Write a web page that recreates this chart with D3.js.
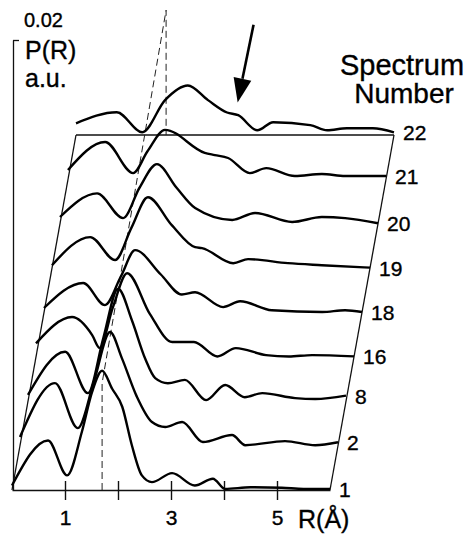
<!DOCTYPE html>
<html>
<head>
<meta charset="utf-8">
<script src="https://cdn.jsdelivr.net/npm/d3@7"></script>
<style>
  body { margin: 0; background: #fff; }
  svg { display: block; font-family: "Liberation Sans", Arial, Helvetica, sans-serif; }
  svg text { stroke: #000; stroke-width: 0.35px; fill: #000; }
</style>
</head>
<body>
<div id="chart"></div>
<script>
// spectrum numbers, front (bottom) to back (top)
const spectrumNumbers = ["1", "2", "8", "16", "18", "19", "20", "21", "22"]

// P(R) in units of 1e-3, [R (Å), value] pairs
const spec1 = [[0, 0.2], [0.68, 2.2], [1.04, 0.65], [1.32, 2.6], [1.51, 4.35], [1.7, 5.3], [1.89, 4.5], [2.08, 3.7], [2.26, 2.0], [2.45, 0.65], [2.64, 0.35], [3.02, 0.75], [3.45, 0.2], [3.79, 0.5], [4.02, 0.05], [4.5, 0.12], [5.09, 0.1], [5.5, 0.05], [6.0, 0.05]]
const spec2 = [[0, 0.38], [0.66, 2.78], [1.09, 0.78], [1.4, 2.9], [1.7, 5.05], [1.92, 3.9], [2.2, 2.2], [2.49, 1.05], [2.74, 0.83], [3.06, 1.05], [3.45, 0.16], [4.0, 0.47], [4.25, 0.02], [5.0, 0.2], [5.57, 0.02], [6.0, 0.15]]
const spec8 = [[0, 0.28], [0.7, 2.2], [1.13, 0.36], [1.42, 2.8], [1.7, 5.0], [1.96, 3.6], [2.21, 1.9], [2.4, 1.03], [2.64, 0.8], [2.96, 0.95], [3.36, 0.05], [3.72, 0.72], [4.09, 0.18], [4.42, 0.36], [5.04, 0.14], [5.42, 0.1], [6.0, 0.25]]
const spec16 = [[0, 0.6], [0.68, 1.77], [1.06, 0.97], [1.2, 0.4], [1.45, 2.2], [1.72, 3.72], [2.15, 1.9], [2.57, 0.66], [2.98, 0.66], [3.42, 0.02], [3.77, 0.39], [4.34, 0.08], [4.77, 0.02], [5.21, 0.08], [6.0, 0.02]]
const spec18 = [[0, 0.2], [0.74, 1.31], [1.15, 0.33], [1.45, 1.6], [1.72, 2.77], [2.2, 1.7], [2.6, 0.8], [2.85, 0.9], [3.38, 0.24], [3.7, 0.5], [4.3, 0.1], [5.25, 0.02], [5.68, 0.1], [6.0, 0.02]]
const spec19 = [[0, 0.13], [0.72, 1.38], [1.19, 0.36], [1.5, 1.8], [1.81, 3.15], [2.26, 1.91], [2.7, 0.93], [2.83, 0.89], [3.42, 0.22], [3.7, 0.4], [4.45, 0.22], [5.09, 0.13], [6.0, 0.02]]
const spec20 = [[0, 0.3], [0.7, 1.35], [1.19, 0.25], [1.5, 1.6], [1.83, 2.65], [2.2, 1.6], [2.55, 0.7], [3.25, 0.17], [3.68, 0.48], [4.38, 0.08], [4.94, 0.3], [5.38, 0.25], [6.0, 0.02]]
const spec21 = [[0, 0.42], [0.7, 1.66], [1.23, 0.28], [1.5, 1.25], [1.83, 2.2], [2.58, 1.18], [2.77, 1.08], [3.02, 0.95], [3.43, 0.28], [3.74, 0.5], [4.28, 0.15], [4.79, 0.24], [5.23, 0.15], [6.0, 0.15]]
const spec22 = [[0, 0.52], [0.77, 1.01], [1.25, 0.12], [1.68, 1.55], [2.11, 2.2], [2.49, 1.55], [2.85, 1.0], [3.06, 0.88], [3.42, 0.21], [3.72, 0.57], [4.42, 0.44], [4.74, 0.21], [5.11, 0.3], [5.6, 0.3], [6.0, 0.12]]

const spectra = [spec1, spec2, spec8, spec16, spec18, spec19, spec20, spec21, spec22]

const xTicks = [1, 2, 3, 4, 5]
const xTickLabels = ["1", "", "3", "", "5"]
const yTopTick = 20 // = 0.02
const yTopLabel = "0.02"

// dashed guide at R = 1.7, top height on the front and the back spectrum
const markerR = 1.7
const markerTop = [4.75, 5.55]

// arrow on spectrum 22: tail and tip as [R, value]
const arrowFrom = [3.35, 4.9]
const arrowTo = [3.05, 1.45]

const SVG_WIDTH = 467
const SVG_HEIGHT = 535
const SKEW = { x: 64, y: 355 }

const svg = d3
  .select("#chart")
  .append("svg")
  .attr("width", SVG_WIDTH)
  .attr("height", SVG_HEIGHT)

svg.append("rect").attr("width", SVG_WIDTH).attr("height", SVG_HEIGHT).attr("fill", "#fff")

// SCALES ----------------------

const xScale = d3.scaleLinear().domain([0, 6]).range([12, 330])
const yScale = d3.scaleLinear().domain([0, 20]).range([490, 40])
const depth = d3.scalePoint().domain(spectrumNumbers).range([0, 1])

const px = (r, s) => xScale(r) + depth(s) * SKEW.x
const py = (v, s) => yScale(v) - depth(s) * SKEW.y

const first = spectrumNumbers[0]
const last = spectrumNumbers[spectrumNumbers.length - 1]

// FRAME -----------------------

const frame = svg.append("g").attr("stroke", "#111").attr("stroke-width", 1.3).attr("fill", "none")

// left and right skew edges, back baseline
frame.append("line")
  .attr("x1", px(0, first)).attr("y1", py(0, first))
  .attr("x2", px(0, last)).attr("y2", py(0, last))
frame.append("line")
  .attr("x1", px(6, first)).attr("y1", py(0, first))
  .attr("x2", px(6, last)).attr("y2", py(0, last))
frame.append("line")
  .attr("x1", px(0, last)).attr("y1", py(0, last))
  .attr("x2", px(6, last)).attr("y2", py(0, last))

// y axis with a single tick at 0.02
const gYAxis = svg.append("g").attr("transform", `translate(${xScale(0) + 1}, 0)`)
gYAxis.call(
  d3.axisRight(yScale).tickValues([yTopTick]).tickSize(6).tickSizeOuter(0).tickFormat("")
)
gYAxis.select(".domain").attr("stroke", "#111").attr("stroke-width", 1.3)
gYAxis.selectAll(".tick line").attr("stroke", "#111").attr("stroke-width", 1.3)

svg.append("text")
  .attr("x", 24).attr("y", 27)
  .style("font-size", "20px")
  .text(yTopLabel)
svg.append("text")
  .attr("x", 25).attr("y", 59)
  .style("font-size", "25px")
  .text("P(R)")
svg.append("text")
  .attr("x", 25).attr("y", 87)
  .style("font-size", "25px")
  .text("a.u.")

// x axis on the front spectrum
const gXAxis = svg.append("g").attr("transform", `translate(0, ${yScale(0)})`)
gXAxis.call(
  d3.axisBottom(xScale)
    .tickValues(xTicks)
    .tickSizeOuter(0)
    .tickFormat((d, i) => xTickLabels[i])
)
gXAxis.select(".domain").attr("stroke", "#111").attr("stroke-width", 1.6)
gXAxis.selectAll(".tick line").attr("y1", -9).attr("y2", 10).attr("stroke", "#111").attr("stroke-width", 1.4)
gXAxis.selectAll(".tick text")
  .attr("y", 35).attr("dy", 0)
  .style("font-size", "21px")
  .style("font-family", "'Liberation Sans', Arial, sans-serif")

svg.append("text")
  .attr("x", 298).attr("y", 528)
  .style("font-size", "25px")
  .text("R(Å)")

// DASHED GUIDE ----------------

const guide = [
  [px(markerR, first), py(0, first)],
  [px(markerR, first), py(markerTop[0], first)],
  [px(markerR, last), py(markerTop[1], last)],
  [px(markerR, last), py(0, last)],
]
svg.append("path")
  .attr("d", d3.line()(guide))
  .attr("fill", "none")
  .attr("stroke", "#222")
  .attr("stroke-width", 1)
  .attr("stroke-dasharray", "7,4")

// SPECTRA ---------------------

const curves = svg.append("g")
spectrumNumbers.forEach((s, i) => {
  const line = d3.line()
    .x(d => px(d[0], s))
    .y(d => py(d[1], s))
    .curve(d3.curveMonotoneX)
  curves.append("path")
    .attr("d", line(spectra[i]))
    .attr("fill", "none")
    .attr("stroke", "#000")
    .attr("stroke-width", 2.4)
    .attr("stroke-linejoin", "round")

  const end = spectra[i][spectra[i].length - 1]
  svg.append("text")
    .attr("x", px(end[0], s) + 9)
    .attr("y", py(end[1], s) + 8)
    .style("font-size", "21px")
    .text(s)
})

// LEGEND TITLE ----------------

svg.append("text")
  .attr("x", 402).attr("y", 75)
  .attr("text-anchor", "middle")
  .style("font-size", "29px")
  .text("Spectrum")
svg.append("text")
  .attr("x", 404).attr("y", 103)
  .attr("text-anchor", "middle")
  .style("font-size", "28px")
  .text("Number")

// ARROW -----------------------

const ax0 = px(arrowFrom[0], last), ay0 = py(arrowFrom[1], last)
const ax1 = px(arrowTo[0], last), ay1 = py(arrowTo[1], last)
const ang = Math.atan2(ay1 - ay0, ax1 - ax0)
const headLen = 24, headHalf = 9
const bx = ax1 - headLen * Math.cos(ang), by = ay1 - headLen * Math.sin(ang)
svg.append("line")
  .attr("x1", ax0).attr("y1", ay0)
  .attr("x2", bx).attr("y2", by)
  .attr("stroke", "#000").attr("stroke-width", 2.6)
svg.append("path")
  .attr("d", d3.line()([
    [ax1, ay1],
    [bx + headHalf * Math.sin(ang), by - headHalf * Math.cos(ang)],
    [bx - headHalf * Math.sin(ang), by + headHalf * Math.cos(ang)],
  ]) + "Z")
  .attr("fill", "#000")
</script>
</body>
</html>
